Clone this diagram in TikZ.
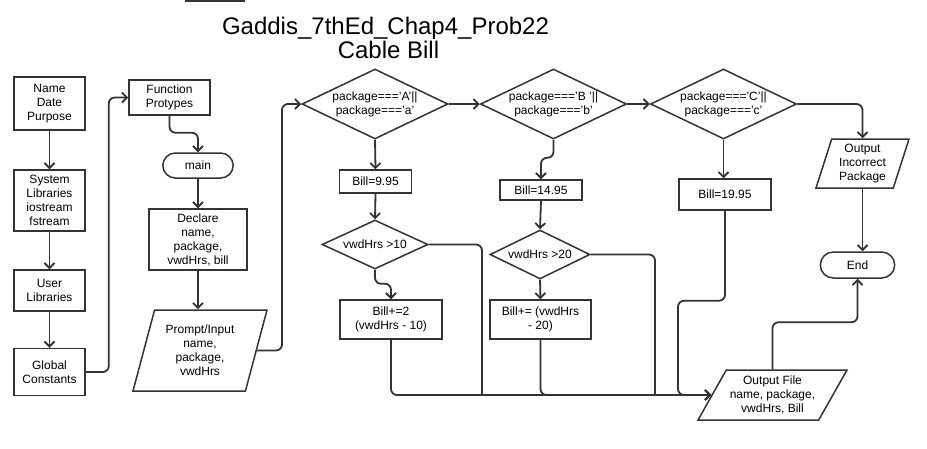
\documentclass[tikz,border=0pt]{standalone}
\usepackage{fontspec}
\setmainfont{Liberation Sans}
\usetikzlibrary{positioning,calc,shapes.geometric,shapes.misc,arrows.meta}
\definecolor{linegray}{HTML}{333333}
\newcommand{\boxfont}{\fontsize{12}{14}\selectfont}
\tikzset{
  % --- flowchart blocks ---
  procbox/.style={draw=linegray, line width=1.5pt, fill=white, align=center,
                  font=\boxfont, inner sep=1pt},
  decision/.style={diamond, draw=linegray, line width=1.5pt, fill=white,
                   align=center, font=\boxfont, inner sep=0pt},
  iobox/.style={trapezium, trapezium stretches body, draw=linegray,
                line width=1.5pt, fill=white, align=center, font=\boxfont,
                inner sep=0pt},
  termbox/.style={rounded rectangle, draw=linegray, line width=1.5pt,
                  fill=white, font=\boxfont},
  titletext/.style={font=\fontsize{24}{24}\selectfont, anchor=base},
  % --- connectors ---
  flow/.style={line width=1.8pt, draw=linegray, rounded corners=6pt,
               -{Straight Barb[length=5pt,width=10pt]}},
  joinline/.style={line width=1.8pt, draw=linegray, rounded corners=6pt},
}

\begin{document}
\begin{tikzpicture}[x=1pt, y=-1pt]
  \useasboundingbox (0,0) rectangle (927,448);
  \fill[linegray] (185,0) rectangle (245,1.5);

  % --- title ---
  \node[titletext] (title)    at (385.5,34.3) {Gaddis\_7thEd\_Chap4\_Prob22};
  \node[titletext] (subtitle) at (388.5,58.3) {Cable Bill};

  % --- column 1: header ---
  \node[procbox, minimum width=71pt, minimum height=53pt] (head)   at (49.5,103.5) {Name\\Date\\Purpose};
  \node[procbox, minimum width=71pt, minimum height=61pt] (syslib) at (49.5,200.5) {System\\Libraries\\iostream\\fstream};
  \node[procbox, minimum width=71pt, minimum height=41pt] (usrlib) at (49.5,290.5) {User\\Libraries};
  \node[procbox, minimum width=71pt, minimum height=47pt] (glob)   at (49.5,372)   {Global\\Constants};

  % --- column 2: main ---
  \node[procbox, minimum width=81pt, minimum height=35pt] (proto) at (169.5,97.5) {Function\\Protypes};
  \node[termbox, minimum width=77pt, minimum height=25pt] (main)  at (198,165.5)  {main};
  \node[procbox, minimum width=98pt, minimum height=61pt] (decl)  at (198,239.5)  {Declare\\name,\\package,\\vwdHrs, bill};
  \node[iobox, trapezium left angle=67, trapezium right angle=113,
        minimum width=134pt, minimum height=81pt] (prompt) at (200,350.5)
        {Prompt/Input\\name,\\package,\\vwdHrs};

  % --- package tests ---
  \node[decision, aspect=2.09, minimum width=146pt, minimum height=70pt] (pkgA) at (375,104)   {package==='A'||\\package==='a'};
  \node[decision, aspect=2.09, minimum width=146pt, minimum height=70pt] (pkgB) at (553.5,104) {package==='B '||\\package==='b'};
  \node[decision, aspect=2.09, minimum width=146pt, minimum height=70pt] (pkgC) at (723.5,104) {package==='C'||\\package==='c'};

  \node[procbox, minimum width=72pt, minimum height=23pt] (billA) at (375.5,181.5) {Bill=9.95};
  \node[procbox, minimum width=82pt, minimum height=20pt] (billB) at (541,190)     {Bill=14.95};
  \node[procbox, minimum width=92pt, minimum height=31pt] (billC) at (725,194.5)   {Bill=19.95};

  % --- hours tests ---
  \node[decision, aspect=2.16, minimum width=106pt, minimum height=49pt] (hrsA) at (375,244.5) {vwdHrs >10};
  \node[decision, aspect=2.04, minimum width=100pt, minimum height=49pt] (hrsB) at (540,254.5) {vwdHrs >20};
  \node[procbox, minimum width=102pt, minimum height=39pt] (addA) at (391,319.5)   {Bill+=2\\(vwdHrs - 10)};
  \node[procbox, minimum width=101pt, minimum height=39pt] (addB) at (540.5,319.5) {Bill+= (vwdHrs\\- 20)};

  % --- output ---
  \node[iobox, trapezium left angle=53.5, trapezium right angle=126.5,
        minimum width=149pt, minimum height=50pt] (outf) at (772.5,395)
        {Output File\\name, package,\\vwdHrs, Bill};
  \node[iobox, trapezium left angle=68, trapezium right angle=112,
        minimum width=93pt, minimum height=49pt] (badpkg) at (862.5,163.5)
        {Output\\Incorrect\\Package};
  \node[termbox, minimum width=81pt, minimum height=26pt] (endt) at (857.5,265) {End};

  \coordinate (mergeA) at (482,395);
  \coordinate (mergeB) at (655,395);
  \coordinate (bendC)  at (678,395);

  % --- connectors ---
  \draw[flow] (head) -- (syslib);
  \draw[flow] (syslib) -- (usrlib);
  \draw[flow] (usrlib) -- (glob);
  \draw[flow] (glob.east) -- ++(23,0) |- (proto.west);
  \draw[flow] (proto.south) -- ++(0,17) -| (main.north);
  \draw[flow] (main) -- (decl);
  \draw[flow] (decl.south) -- (decl.south |- prompt.north);
  \draw[flow] (prompt.east) -- ++(25,0) |- (pkgA.west);
  \draw[flow] (pkgA) -- (pkgB);
  \draw[flow] (pkgB) -- (pkgC);
  \draw[flow] (pkgC.east) -| (badpkg.north);
  \draw[flow] (pkgA.south) -- (billA.north);
  \draw[flow] (pkgB.south) -- ++(0,18) -| (billB.north);
  \draw[flow] (pkgC.south) -- (pkgC.south |- billC.north);
  \draw[flow] (billA.south) -- (hrsA.north);
  \draw[flow] (billB.south) -- (hrsB.north);
  \draw[flow] (hrsA.south) -- ++(0,14) -| (addA.north);
  \draw[flow] (hrsB.south) -- (addB.north);
  \draw[joinline] (hrsA.east) -| (mergeA);
  \draw[joinline] (hrsB.east) -| (mergeB);
  \draw[flow] (addA.south) |- (outf.west);
  \draw[flow] (addB.south) |- (outf.west);
  \draw[flow] (billC.south) -- ++(0,90) -| (bendC) -- (outf.west);
  \draw[flow] (outf.north) -- ++(0,-47) -| (endt.south);
  \draw[flow] (badpkg.south) -- (badpkg.south |- endt.north);
\end{tikzpicture}
\end{document}
